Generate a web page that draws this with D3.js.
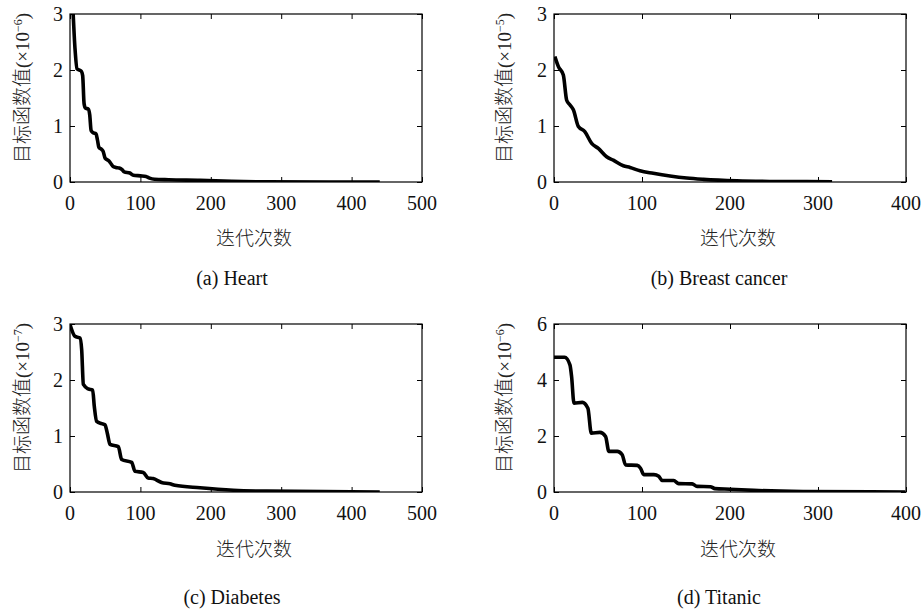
<!DOCTYPE html>
<html>
<head>
<meta charset="utf-8">
<script src="https://cdn.jsdelivr.net/npm/d3@7"></script>
<style>
  body { margin: 0; background: #fff; }
  svg text { font-family: "Liberation Serif", "Times New Roman", "Noto Sans CJK SC", serif; fill: #111; }
  .cjk { font-family: "Liberation Serif", "Noto Sans CJK SC", serif; font-weight: 300; fill: #222; }
</style>
</head>
<body>
<div id="chart"></div>
<script>
// ---- data (iteration, objective value) ----
const heartX = [1, 4, 7, 10, 16, 18, 20, 22, 26, 28, 30, 33, 37, 39, 41, 45, 47, 50, 55, 58, 61, 65, 70, 74, 77, 85, 90, 100, 108, 113, 120, 140, 185, 230, 280, 440];
const heartY = [3.6, 3.1, 2.4, 2.02, 1.98, 1.9, 1.4, 1.32, 1.3, 1.2, 0.92, 0.88, 0.86, 0.75, 0.62, 0.58, 0.55, 0.42, 0.38, 0.33, 0.28, 0.26, 0.25, 0.22, 0.18, 0.16, 0.12, 0.11, 0.1, 0.07, 0.05, 0.04, 0.03, 0.012, 0.004, 0];

const breastX = [1, 5, 10.6, 14.4, 18.2, 22, 27.7, 35, 42.8, 50.4, 59.8, 67.4, 78.8, 86.4, 97.7, 112.8, 131.8, 150.8, 169.7, 207.6, 245, 316];
const breastY = [2.24, 2.06, 1.91, 1.46, 1.375, 1.29, 0.99, 0.9, 0.69, 0.6, 0.45, 0.39, 0.29, 0.26, 0.2, 0.155, 0.107, 0.07, 0.047, 0.02, 0.01, 0.005];

const diabetesX = [0, 7, 14.2, 16.6, 19, 26, 32.2, 34.5, 37.9, 45, 49.7, 53, 56.8, 68.6, 73.4, 87.6, 92.3, 104, 111, 118, 130, 142, 149, 184.7, 232, 279, 440];
const diabetesY = [2.99, 2.78, 2.75, 2.54, 1.92, 1.84, 1.82, 1.53, 1.26, 1.22, 1.2, 1.05, 0.85, 0.81, 0.58, 0.53, 0.37, 0.35, 0.25, 0.24, 0.17, 0.146, 0.12, 0.075, 0.032, 0.015, 0];

const titanicX = [0, 12.1, 18.1, 20, 22.7, 32.2, 38.5, 42.4, 52.2, 58.6, 62.4, 71.9, 77.5, 81.3, 94.6, 98.3, 102, 113.4, 119, 123, 136, 141.7, 157, 162.6, 177.7, 183, 200, 226.8, 283, 399];
const titanicY = [4.81, 4.81, 4.54, 4.12, 3.17, 3.2, 2.99, 2.1, 2.13, 1.98, 1.45, 1.45, 1.33, 0.97, 0.95, 0.85, 0.62, 0.62, 0.56, 0.41, 0.41, 0.3, 0.29, 0.2, 0.19, 0.12, 0.1, 0.06, 0.02, 0];

const captions = ["(a) Heart", "(b) Breast cancer", "(c) Diabetes", "(d) Titanic"];
const exponents = ["\u22126", "\u22125", "\u22127", "\u22126"];
const xMaxes = [500, 400, 500, 400];
const yMaxes = [3, 3, 3, 6];
const xTicks = [[0, 100, 200, 300, 400, 500], [0, 100, 200, 300, 400], [0, 100, 200, 300, 400, 500], [0, 100, 200, 300, 400]];
const yTicks = [[0, 1, 2, 3], [0, 1, 2, 3], [0, 1, 2, 3], [0, 2, 4, 6]];
const xLabel = "迭代次数";
const yLabel = "目标函数值(×10";

const seriesX = [heartX, breastX, diabetesX, titanicX];
const seriesY = [heartY, breastY, diabetesY, titanicY];

const width = 924, height = 615;
const svg = d3.select("#chart").append("svg")
    .attr("width", width)
    .attr("height", height);

// panel frames: left, top, right, bottom
const panels = [
    {l: 70, t: 14, r: 422, b: 182, ylx: 22, capx: 232, capy: 285, xly: 245, tky: 210},
    {l: 554, t: 14, r: 906, b: 182, ylx: 504, capx: 719, capy: 285, xly: 245, tky: 210},
    {l: 70, t: 324, r: 422, b: 492, ylx: 22, capx: 232, capy: 604, xly: 556, tky: 520},
    {l: 554, t: 324, r: 906, b: 492, ylx: 504, capx: 719, capy: 604, xly: 556, tky: 520}
];

panels.forEach(function(p, i) {
    const w = p.r - p.l, h = p.b - p.t;
    const xScale = d3.scaleLinear().domain([0, xMaxes[i]]).range([0, w]);
    const yScale = d3.scaleLinear().domain([0, yMaxes[i]]).range([h, 0]);

    const g = svg.append("g")
        .attr("transform", "translate(" + p.l + "," + p.t + ")");

    const clipId = "clip" + i;
    g.append("clipPath").attr("id", clipId)
        .append("rect").attr("width", w).attr("height", h);

    // axes with ticks pointing inwards, labels placed by hand below
    const xAxisB = d3.axisBottom(xScale).tickValues(xTicks[i]).tickSize(-5).tickFormat("");
    const xAxisT = d3.axisTop(xScale).tickValues(xTicks[i]).tickSize(-5).tickFormat("");
    const yAxisL = d3.axisLeft(yScale).tickValues(yTicks[i]).tickSize(-5).tickFormat("");
    const yAxisR = d3.axisRight(yScale).tickValues(yTicks[i]).tickSize(-5).tickFormat("");

    function styleAxis(a) {
        a.select(".domain").remove();
        a.selectAll(".tick line").attr("stroke", "#000").attr("stroke-width", 1);
    }
    g.append("g").attr("transform", "translate(0," + h + ")").call(xAxisB).call(styleAxis);
    g.append("g").call(xAxisT).call(styleAxis);
    g.append("g").call(yAxisL).call(styleAxis);
    g.append("g").attr("transform", "translate(" + w + ",0)").call(yAxisR).call(styleAxis);

    // curve
    const data = seriesX[i].map((x, k) => ({x: x, y: seriesY[i][k]}));
    const line = d3.line()
        .x(d => xScale(d.x))
        .y(d => yScale(d.y))
        .curve(d3.curveMonotoneX);
    g.append("path")
        .datum(data)
        .attr("clip-path", "url(#" + clipId + ")")
        .attr("fill", "none")
        .attr("stroke", "#000")
        .attr("stroke-width", 3.6)
        .attr("stroke-linejoin", "round")
        .attr("d", line);

    // box
    g.append("rect")
        .attr("width", w).attr("height", h)
        .attr("fill", "none")
        .attr("stroke", "#000")
        .attr("stroke-width", 1.2);

    // tick labels
    g.selectAll(".xtl").data(xTicks[i]).enter().append("text")
        .attr("x", d => xScale(d))
        .attr("y", p.tky - p.t)
        .attr("text-anchor", "middle")
        .style("font-size", "20px")
        .text(d => d);
    g.selectAll(".ytl").data(yTicks[i]).enter().append("text")
        .attr("x", -7)
        .attr("y", d => yScale(d))
        .attr("dy", "0.33em")
        .attr("text-anchor", "end")
        .style("font-size", "20px")
        .text(d => d);

    // y label
    const yl = svg.append("text")
        .attr("class", "cjk")
        .attr("transform", "translate(" + (p.ylx + 7) + "," + (p.t + h / 2 - 10) + ") rotate(-90)")
        .attr("text-anchor", "middle")
        .style("font-size", "19px");
    yl.append("tspan").text(yLabel);
    yl.append("tspan").attr("baseline-shift", "super").style("font-size", "12px").text(exponents[i]);
    yl.append("tspan").text(")");

    // x label
    svg.append("text")
        .attr("class", "cjk")
        .attr("x", (p.l + p.r) / 2 + 8)
        .attr("y", p.xly)
        .attr("text-anchor", "middle")
        .style("font-size", "19px")
        .text(xLabel);

    // caption
    svg.append("text")
        .attr("x", p.capx)
        .attr("y", p.capy)
        .attr("text-anchor", "middle")
        .style("font-size", "20px")
        .text(captions[i]);
});
</script>
</body>
</html>
